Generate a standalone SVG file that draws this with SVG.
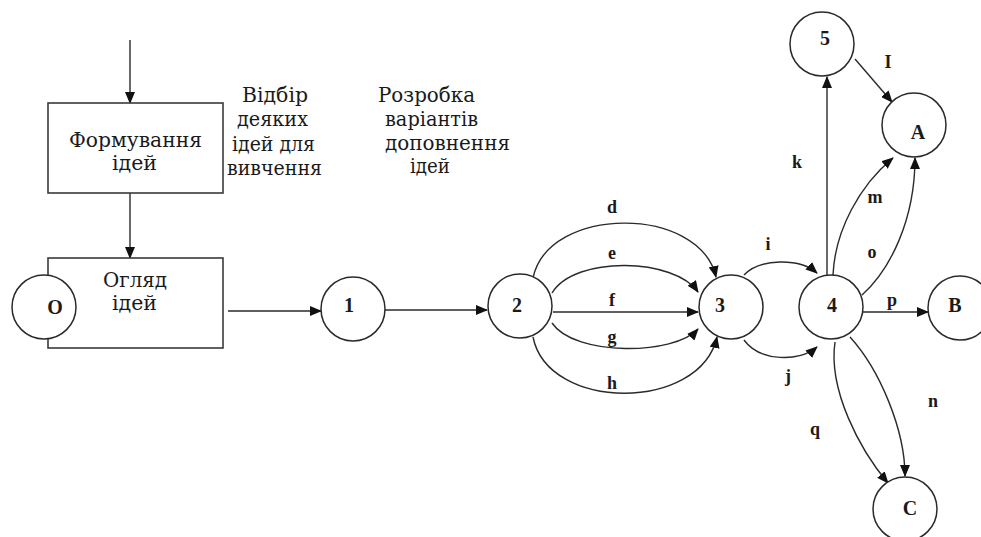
<svg xmlns="http://www.w3.org/2000/svg" width="981" height="537" viewBox="0 0 981 537">
<style>
.ln{fill:none;stroke:#2a2a2a;stroke-width:1.4}
.box{fill:#fff;stroke:#3a3a3a;stroke-width:1.6}
.nd{fill:#fff;stroke:#2a2a2a;stroke-width:1.5}
.t{font-family:"DejaVu Serif","Noto Serif","FreeSerif","Liberation Serif",serif;font-size:20px;fill:#1a1a1a}
.n{font-family:"Liberation Serif","Times New Roman",serif;font-size:20px;font-weight:bold;fill:#1a1a1a;text-anchor:middle}
.l{font-family:"Liberation Serif","Times New Roman",serif;font-size:18px;font-weight:bold;fill:#1a1a1a;text-anchor:middle}
</style>
<defs>
<marker id="ah" markerWidth="12" markerHeight="10" refX="11" refY="5" orient="auto" markerUnits="userSpaceOnUse">
<path d="M0,0 L12,5 L0,10 Z" fill="#111"/>
</marker>
</defs>
<rect width="981" height="537" fill="#fff"/>

<g id="texts">
<text class="t" x="242" y="102" textLength="66" lengthAdjust="spacingAndGlyphs">Відбір</text>
<text class="t" x="237" y="126" textLength="71" lengthAdjust="spacingAndGlyphs">деяких</text>
<text class="t" x="232" y="151" textLength="83" lengthAdjust="spacingAndGlyphs">ідей для</text>
<text class="t" x="227" y="175" textLength="95" lengthAdjust="spacingAndGlyphs">вивчення</text>
<text class="t" x="378" y="102" textLength="97" lengthAdjust="spacingAndGlyphs">Розробка</text>
<text class="t" x="385" y="126" textLength="93" lengthAdjust="spacingAndGlyphs">варіантів</text>
<text class="t" x="385" y="150" textLength="125" lengthAdjust="spacingAndGlyphs">доповнення</text>
<text class="t" x="410" y="173" textLength="40" lengthAdjust="spacingAndGlyphs">ідей</text>
</g>

<g id="connectors">
<path class="ln" d="M130,40 L130,103" marker-end="url(#ah)"/>
<path class="ln" d="M130,193 L130,258" marker-end="url(#ah)"/>
<path class="ln" d="M228,311 L321,311" marker-end="url(#ah)"/>
<path class="ln" d="M385,310 L487,310" marker-end="url(#ah)"/>
<path class="ln" d="M533,278 C548,205 700,205 716,277" marker-end="url(#ah)"/>
<path class="ln" d="M552,293 C575,255 675,258 698,292" marker-end="url(#ah)"/>
<path class="ln" d="M553,312 L698,312" marker-end="url(#ah)"/>
<path class="ln" d="M552,323 C575,357 675,355 698,329" marker-end="url(#ah)"/>
<path class="ln" d="M533,337 C548,412 700,412 717,337" marker-end="url(#ah)"/>
<path class="ln" d="M744,275 C760,258 800,258 817,273" marker-end="url(#ah)"/>
<path class="ln" d="M744,340 C760,362 800,362 817,347" marker-end="url(#ah)"/>
<path class="ln" d="M827,276 L827,77" marker-end="url(#ah)"/>
<path class="ln" d="M855,59 L892,102" marker-end="url(#ah)"/>
<path class="ln" d="M833,275 C835,230 860,185 893,158" marker-end="url(#ah)"/>
<path class="ln" d="M862,295 C890,270 915,220 915,158" marker-end="url(#ah)"/>
<path class="ln" d="M863,312 L928,312" marker-end="url(#ah)"/>
<path class="ln" d="M850,337 C880,370 905,430 905,476" marker-end="url(#ah)"/>
<path class="ln" d="M835,342 C828,390 860,450 888,483" marker-end="url(#ah)"/>
<text class="l" x="612" y="213">d</text>
<text class="l" x="612" y="259">e</text>
<text class="l" x="612" y="306">f</text>
<text class="l" x="612" y="343">g</text>
<text class="l" x="612" y="389">h</text>
<text class="l" x="768" y="250">i</text>
<text class="l" x="788" y="382">j</text>
<text class="l" x="797" y="168">k</text>
<text class="l" x="888" y="68">I</text>
<text class="l" x="875" y="203">m</text>
<text class="l" x="872" y="258">o</text>
<text class="l" x="892" y="306">p</text>
<text class="l" x="933" y="407">n</text>
<text class="l" x="815" y="435">q</text>
</g>

<g id="node-formuvannia">
<rect class="box" x="48" y="103" width="175" height="90"/>
<text class="t" x="69" y="147" textLength="133" lengthAdjust="spacingAndGlyphs">Формування</text>
<text class="t" x="112" y="170" textLength="45" lengthAdjust="spacingAndGlyphs">ідей</text>
</g>
<g id="node-ohliad">
<rect class="box" x="48" y="258" width="175" height="90"/>
<text class="t" x="103" y="287" textLength="64" lengthAdjust="spacingAndGlyphs" fill="#333">Огляд</text>
<text class="t" x="112" y="310" textLength="45" lengthAdjust="spacingAndGlyphs" fill="#333">ідей</text>
</g>
<g id="node-O">
<circle class="nd" cx="44" cy="307" r="32"/>
<text class="n" x="55" y="314">O</text>
</g>
<g id="node-1">
<circle class="nd" cx="353" cy="309" r="32"/>
<text class="n" x="349" y="312">1</text>
</g>
<g id="node-2">
<circle class="nd" cx="520" cy="306" r="32"/>
<text class="n" x="517" y="312">2</text>
</g>
<g id="node-3">
<circle class="nd" cx="731" cy="307" r="32"/>
<text class="n" x="720" y="312">3</text>
</g>
<g id="node-4">
<circle class="nd" cx="831" cy="307" r="32"/>
<text class="n" x="832" y="312">4</text>
</g>
<g id="node-5">
<circle class="nd" cx="822" cy="44" r="32"/>
<text class="n" x="825" y="45">5</text>
</g>
<g id="node-A">
<circle class="nd" cx="914" cy="125" r="32"/>
<text class="n" x="918" y="139">A</text>
</g>
<g id="node-B">
<circle class="nd" cx="960" cy="308" r="32"/>
<text class="n" x="955" y="312">B</text>
</g>
<g id="node-C">
<circle class="nd" cx="905" cy="509" r="32"/>
<text class="n" x="910" y="515">C</text>
</g>
</svg>
